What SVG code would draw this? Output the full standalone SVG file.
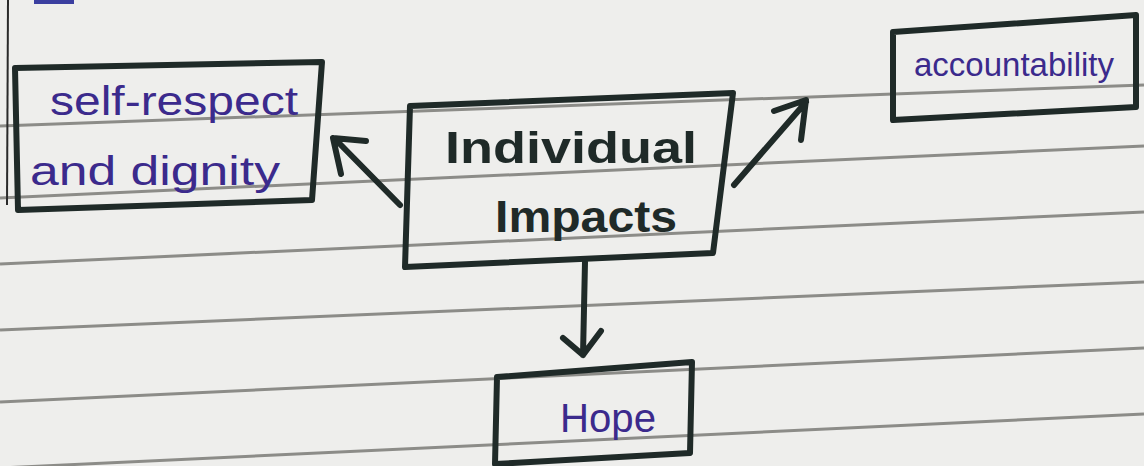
<svg xmlns="http://www.w3.org/2000/svg" width="1144" height="466" viewBox="0 0 1144 466">
<defs>
<style>
.paper{fill:#eeeeec}
.rule{stroke:#8c8c88;stroke-width:3;fill:none}
.box{fill:none;stroke:#1f2a28;stroke-width:6;stroke-linejoin:round}
.conn{stroke:#1f2a28;stroke-width:6;fill:none;stroke-linecap:round;stroke-linejoin:round}
.blue{font-family:"Liberation Sans",Arial,sans-serif;fill:#3b2a8c;font-size:40px}
.small{font-size:33px}
.bold{font-family:"Liberation Sans",Arial,sans-serif;fill:#1f2a28;font-size:44px;font-weight:bold}
</style>
</defs>
<rect class="paper" x="0" y="0" width="1144" height="466"/>
<g id="ruling">
<line class="rule" x1="0" y1="126" x2="1144" y2="85"/>
<line class="rule" x1="0" y1="198" x2="1144" y2="146"/>
<line class="rule" x1="0" y1="264" x2="1144" y2="212"/>
<line class="rule" x1="0" y1="330" x2="1144" y2="282"/>
<line class="rule" x1="0" y1="402" x2="1144" y2="348"/>
<line class="rule" x1="0" y1="468" x2="1144" y2="414"/>
<line x1="8" y1="0" x2="7" y2="205" stroke="#2a2a2a" stroke-width="2"/>
<rect x="34" y="0" width="40" height="4" fill="#3b3fa0"/>
</g>
<g id="connectors">
<path class="conn" d="M400,205 L336,140 M333,138 L366,141 M333,138 L341,174"/>
<path class="conn" d="M734,185 L806,102 M806,100 L774,111 M806,100 L801,140"/>
<path class="conn" d="M585,262 L583,355 M583,355 L563,338 M583,355 L601,331"/>
</g>
<g id="node-self-respect">
<polygon class="box" points="15,68 322,62 312,200 18,210"/>
<text class="blue" x="50" y="115" textLength="248" lengthAdjust="spacingAndGlyphs">self-respect</text>
<text class="blue" x="30" y="185" textLength="250" lengthAdjust="spacingAndGlyphs">and dignity</text>
</g>
<g id="node-individual-impacts">
<polygon class="box" points="410,106 733,93 713,253 405,267"/>
<text class="bold" x="445" y="163" textLength="252" lengthAdjust="spacingAndGlyphs">Individual</text>
<text class="bold" x="495" y="232" textLength="182" lengthAdjust="spacingAndGlyphs">Impacts</text>
</g>
<g id="node-accountability">
<polygon class="box" points="893,32 1136,15 1136,107 893,120"/>
<text class="blue small" x="1014" y="76" text-anchor="middle">accountability</text>
</g>
<g id="node-hope">
<polygon class="box" points="497,377 692,362 690,453 495,464"/>
<text class="blue" x="560" y="432" textLength="96" lengthAdjust="spacingAndGlyphs">Hope</text>
</g>
</svg>
